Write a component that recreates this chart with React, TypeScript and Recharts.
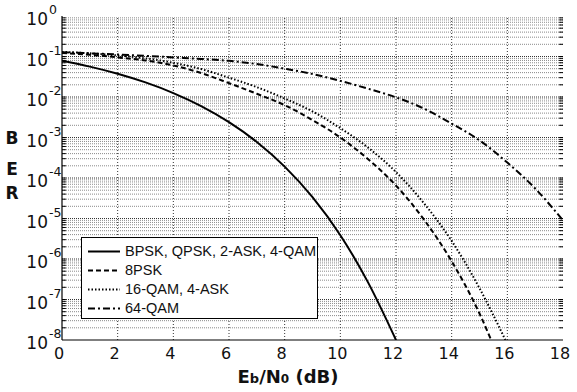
import React from 'react';
import { LineChart, Line, XAxis, YAxis, ReferenceLine, Legend } from 'recharts';

// ---- axis ticks ----
const xTicks = [0, 2, 4, 6, 8, 10, 12, 14, 16, 18];
const yDecadeExps = [0, -1, -2, -3, -4, -5, -6, -7, -8];
const minorMultipliers = [2, 3, 4, 5, 6, 7, 8, 9];

// ---- series (Eb/N0 in dB, BER) ----
const bpskEbN0 = [0, 1, 2, 3, 4, 5, 6, 7, 8, 9, 10, 11, 12];
const bpskBer = [0.0786, 0.0563, 0.0375, 0.0229, 0.0125, 0.00595, 0.00239, 7.73e-4, 1.91e-4, 3.36e-5, 3.87e-6, 2.61e-7, 1e-8];

const psk8EbN0 = [0, 1, 2, 3, 4, 5, 6, 7, 8, 9, 10, 11, 12, 13, 14, 15, 15.42];
const psk8Ber = [0.122, 0.11, 0.095, 0.08, 0.06, 0.039, 0.022, 0.012, 0.0063, 0.0027, 0.001, 2.9e-4, 6.5e-5, 9.5e-6, 8.8e-7, 4.5e-8, 1e-8];

const qam16EbN0 = [0, 1, 2, 3, 4, 5, 6, 7, 8, 9, 10, 11, 12, 13, 14, 15, 15.93];
const qam16Ber = [0.13, 0.12, 0.106, 0.09, 0.07, 0.049, 0.03, 0.0175, 0.0092, 0.0044, 0.0017, 5.6e-4, 1.4e-4, 2.4e-5, 2.8e-6, 1.9e-7, 1e-8];

const qam64EbN0 = [0, 1, 2, 3, 4, 5, 6, 7, 8, 9, 10, 11, 12, 13, 14, 15, 16, 17, 18];
const qam64Ber = [0.128, 0.12, 0.112, 0.104, 0.095, 0.087, 0.078, 0.065, 0.05, 0.037, 0.025, 0.016, 0.0098, 0.0052, 0.0022, 8.5e-4, 2.4e-4, 5.5e-5, 9e-6];

const seriesNames = ['BPSK, QPSK, 2-ASK, 4-QAM', '8PSK', '16-QAM, 4-ASK', '64-QAM'];

const toData = (xs: number[], ys: number[]) => xs.map((x, i) => ({ ebn0: x, ber: ys[i] }));

const series = [
  { name: seriesNames[0], data: toData(bpskEbN0, bpskBer), dash: undefined as string | undefined, width: 2 },
  { name: seriesNames[1], data: toData(psk8EbN0, psk8Ber), dash: '5 3', width: 2 },
  { name: seriesNames[2], data: toData(qam16EbN0, qam16Ber), dash: '1.5 2', width: 2 },
  { name: seriesNames[3], data: toData(qam64EbN0, qam64Ber), dash: '7 3 2 3', width: 2 },
];

const yTicks = yDecadeExps.map((e) => Math.pow(10, e));
const majorGrid = yDecadeExps.slice(1, -1).map((e) => Math.pow(10, e));
const minorGrid: number[] = [];
yDecadeExps.slice(1).forEach((e) => {
  minorMultipliers.forEach((m) => minorGrid.push(m * Math.pow(10, e)));
});
const allGridY = [...majorGrid, ...minorGrid];

const FONT = '"DejaVu Sans", sans-serif';

const YTick = (props: any) => {
  const { y, payload } = props;
  const exp = Math.round(Math.log10(payload.value));
  return (
    <g>
      <text x={48} y={y + 9} textAnchor="end" fontSize={17} fontFamily={FONT} fill="#111">10</text>
      <text x={49} y={y - 2} textAnchor="start" fontSize={12.5} fontFamily={FONT} fill="#111">{String(exp)}</text>
    </g>
  );
};

const XTick = (props: any) => {
  const { x, payload } = props;
  return (
    <text x={x - 3} y={359} textAnchor="middle" fontSize={16} fontFamily={FONT} fill="#111">
      {payload.value}
    </text>
  );
};

const LegendBox = () => (
  <div
    style={{
      boxSizing: 'border-box',
      width: 237,
      height: 82,
      border: '1px solid #000',
      background: '#fff',
      paddingTop: 4,
      paddingLeft: 6,
    }}
  >
    {series.map((s) => (
      <div key={s.name} style={{ display: 'flex', alignItems: 'center', height: 19 }}>
        <svg width={32} height={19} style={{ display: 'block' }}>
          <line x1={0} y1={9.5} x2={32} y2={9.5} stroke="#000" strokeWidth={s.width} strokeDasharray={s.dash} />
        </svg>
        <span
          style={{
            marginLeft: 5,
            fontFamily: '"Liberation Sans", Arial, sans-serif',
            fontSize: 14.5,
            color: '#111',
            lineHeight: '19px',
            whiteSpace: 'nowrap',
          }}
        >
          {s.name}
        </span>
      </div>
    ))}
  </div>
);

export default function App() {
  return (
    <div style={{ position: 'absolute', left: 0, top: 0, width: 577, height: 392, background: '#fff' }}>
      <LineChart width={577} height={392} margin={{ top: 16, right: 14, bottom: 22, left: 0 }}>
        <XAxis
          dataKey="ebn0"
          type="number"
          domain={[0, 18]}
          ticks={xTicks}
          tick={<XTick />}
          tickLine={false}
          axisLine={{ stroke: '#000', strokeWidth: 1.2 }}
          height={30}
          allowDataOverflow
        />
        <XAxis
          xAxisId="top"
          orientation="top"
          type="number"
          domain={[0, 18]}
          tick={false}
          tickLine={false}
          axisLine={{ stroke: '#000', strokeWidth: 1.2 }}
          height={0}
        />
        <YAxis
          type="number"
          scale="log"
          domain={[1e-8, 1]}
          ticks={yTicks}
          tick={<YTick />}
          tickLine={false}
          axisLine={{ stroke: '#000', strokeWidth: 1.2 }}
          width={62}
          allowDataOverflow
        />
        <YAxis
          yAxisId="right"
          orientation="right"
          type="number"
          scale="log"
          domain={[1e-8, 1]}
          tick={false}
          tickLine={false}
          axisLine={{ stroke: '#000', strokeWidth: 1.2 }}
          width={0}
        />
        {minorGrid.map((v) => (
          <ReferenceLine key={'mi' + v} y={v} stroke="#8a8a8a" strokeWidth={1} strokeDasharray="1 1" />
        ))}
        {majorGrid.map((v) => (
          <ReferenceLine key={'ma' + v} y={v} stroke="#333" strokeWidth={1} strokeDasharray="1 1" />
        ))}
        {xTicks.slice(1, -1).map((v) => (
          <ReferenceLine key={'vx' + v} x={v} stroke="#333" strokeWidth={1} strokeDasharray="1 2" />
        ))}
        {allGridY.map((v) => (
          <ReferenceLine
            key={'tl' + v}
            segment={[{ x: 0, y: v }, { x: 0.14, y: v }]}
            stroke="#000"
            strokeWidth={1}
          />
        ))}
        {allGridY.map((v) => (
          <ReferenceLine
            key={'tr' + v}
            segment={[{ x: 17.86, y: v }, { x: 18, y: v }]}
            stroke="#000"
            strokeWidth={1}
          />
        ))}
        {series.map((s) => (
          <Line
            key={s.name}
            data={s.data}
            dataKey="ber"
            name={s.name}
            type="monotone"
            stroke="#000"
            strokeWidth={s.width}
            strokeDasharray={s.dash}
            dot={false}
            activeDot={false}
            isAnimationActive={false}
          />
        ))}
        <Legend
          layout="vertical"
          verticalAlign="middle"
          align="center"
          content={<LegendBox />}
          wrapperStyle={{ position: 'absolute', left: 81, top: 237, width: 237, height: 82 }}
        />
        <text x={12} y={144} textAnchor="middle" fontSize={17} fontWeight="bold" fontFamily={FONT} fill="#111">B</text>
        <text x={12} y={175} textAnchor="middle" fontSize={17} fontWeight="bold" fontFamily={FONT} fill="#111">E</text>
        <text x={12} y={199} textAnchor="middle" fontSize={17} fontWeight="bold" fontFamily={FONT} fill="#111">R</text>
        <text x={288} y={383} textAnchor="middle" fontSize={18} fontWeight="bold" fontFamily={FONT} fill="#111">
          <tspan>E</tspan>
          <tspan fontSize={13}>b</tspan>
          <tspan>/N</tspan>
          <tspan fontSize={12}>0</tspan>
          <tspan> (dB)</tspan>
        </text>
      </LineChart>
    </div>
  );
}
